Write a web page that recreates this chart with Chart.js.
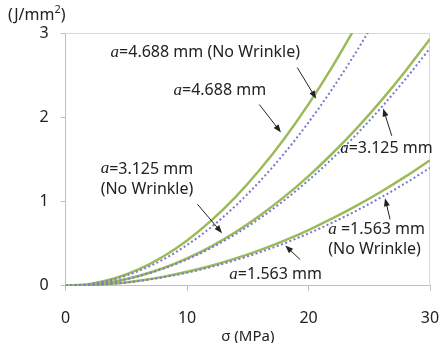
<!DOCTYPE html>
<html>
<head>
<meta charset="utf-8">
<script src="https://cdn.jsdelivr.net/npm/chart.js@4/dist/chart.umd.min.js"></script>
<style>
  html, body { margin: 0; padding: 0; background: #fff; }
  #caixa { width: 441px; height: 343px; }
</style>
</head>
<body>
<div id="caixa"><canvas id="grafico"></canvas></div>
<script>
// tensão (MPa)
const sigma = [0, 2, 4, 6, 8, 10, 12, 14, 16, 18, 20, 22, 24, 26, 28, 30];

// energia (J/mm2)
const a4688SemRuga = [0, 0.022, 0.086, 0.194, 0.345, 0.539, 0.776, 1.056, 1.380, 1.746, 2.156, 2.609, 3.105];
const a4688 = [0, 0.019, 0.078, 0.175, 0.310, 0.485, 0.698, 0.951, 1.242, 1.571, 1.940, 2.347, 2.794, 3.279];
const a3125SemRuga = [0, 0.013, 0.052, 0.117, 0.208, 0.326, 0.469, 0.638, 0.834, 1.055, 1.302, 1.576, 1.875, 2.201, 2.553, 2.930];
const a3125 = [0, 0.013, 0.050, 0.113, 0.201, 0.313, 0.451, 0.614, 0.802, 1.015, 1.253, 1.516, 1.805, 2.118, 2.456, 2.820];
const a1563SemRuga = [0, 0.007, 0.026, 0.060, 0.106, 0.166, 0.238, 0.325, 0.424, 0.537, 0.662, 0.802, 0.954, 1.119, 1.298, 1.490];
const a1563 = [0, 0.006, 0.025, 0.056, 0.100, 0.156, 0.224, 0.305, 0.398, 0.504, 0.622, 0.753, 0.896, 1.052, 1.220, 1.400];

const xTicks = [0, 10, 20, 30];
const yTicks = [0, 1, 2, 3];

// rótulos: texto, posição (sigma, energia), seta de -> para
const rotulos = [
  { linhas: [['a', '=4.688 mm (No Wrinkle)']], x: 3.7, y: 2.77, seta: [19.07, 2.59, 20.63, 2.22] },
  { linhas: [['a', '=4.688 mm']], x: 8.88, y: 2.32, seta: [15.95, 2.151, 17.73, 1.82] },
  { linhas: [['a', '=3.125 mm']], x: 22.6, y: 1.625, seta: [26.85, 1.781, 26.14, 2.104] },
  { linhas: [['a', '=3.125 mm'], ['', '(No Wrinkle)']], x: 2.88, y: 1.386, seta: [10.85, 0.968, 12.88, 0.625] },
  { linhas: [['a', ' =1.563 mm'], ['', '(No Wrinkle)']], x: 21.62, y: 0.669, seta: [26.71, 0.789, 26.30, 1.040] },
  { linhas: [['a', '=1.563 mm']], x: 13.48, y: 0.131, seta: [19.31, 0.311, 18.08, 0.478] }
];

function pontos(valores) {
  return valores.map((v, i) => ({ x: sigma[i], y: v }));
}

const verde = '#9bbb59';
const azul = '#7a78cc';

function serieVerde(valores) {
  return { data: pontos(valores), borderColor: verde, borderWidth: 2.5, pointRadius: 0, cubicInterpolationMode: 'monotone', order: 2 };
}
function seriePontilhada(valores) {
  return { data: pontos(valores), borderColor: azul, borderWidth: 2, borderDash: [2, 2.5], pointRadius: 0, cubicInterpolationMode: 'monotone', order: 1 };
}

const familia = '"Noto Sans", sans-serif';
const fonteTexto = '16px ' + familia;
const fonteA = 'italic 17px "Liberation Serif", serif';

const desenhos = {
  id: 'desenhos',
  beforeDatasetsDraw(chart) {
    const c = chart.ctx, a = chart.chartArea;
    c.save();
    c.strokeStyle = '#d9d9d9';
    c.lineWidth = 1;
    c.beginPath();
    c.moveTo(a.left, a.top + 0.5);
    c.lineTo(a.right - 0.5, a.top + 0.5);
    c.lineTo(a.right - 0.5, a.bottom);
    c.stroke();
    c.restore();
  },
  afterDraw(chart) {
    const c = chart.ctx, sx = chart.scales.x, sy = chart.scales.y;
    c.save();
    c.fillStyle = '#222';
    c.textBaseline = 'middle';
    c.font = fonteTexto;
    c.fillText('(J/mm', 8, 15);
    let w = c.measureText('(J/mm').width;
    c.font = '11px ' + familia;
    c.fillText('2', 8 + w, 10);
    let w2 = c.measureText('2').width;
    c.font = fonteTexto;
    c.fillText(')', 8 + w + w2, 15);

    rotulos.forEach(r => {
      let px = sx.getPixelForValue(r.x), py = sy.getPixelForValue(r.y);
      r.linhas.forEach((l, k) => {
        let xx = px;
        if (l[0]) {
          c.font = fonteA;
          c.fillText(l[0], xx, py + k * 20);
          xx += c.measureText(l[0]).width;
        }
        c.font = fonteTexto;
        c.fillText(l[1], xx, py + k * 20);
      });
      // seta
      const x1 = sx.getPixelForValue(r.seta[0]), y1 = sy.getPixelForValue(r.seta[1]);
      const x2 = sx.getPixelForValue(r.seta[2]), y2 = sy.getPixelForValue(r.seta[3]);
      const ang = Math.atan2(y2 - y1, x2 - x1);
      c.strokeStyle = '#222';
      c.lineWidth = 1;
      c.beginPath();
      c.moveTo(x1, y1);
      c.lineTo(x2 - 5 * Math.cos(ang), y2 - 5 * Math.sin(ang));
      c.stroke();
      c.beginPath();
      c.moveTo(x2, y2);
      c.lineTo(x2 - 8 * Math.cos(ang) + 3 * Math.sin(ang), y2 - 8 * Math.sin(ang) - 3 * Math.cos(ang));
      c.lineTo(x2 - 8 * Math.cos(ang) - 3 * Math.sin(ang), y2 - 8 * Math.sin(ang) + 3 * Math.cos(ang));
      c.closePath();
      c.fill();
    });
    c.restore();
  }
};

const ctx = document.getElementById('grafico').getContext('2d');
const grafico = new Chart(ctx, {
  type: 'line',
  data: {
    datasets: [
      seriePontilhada(a4688),
      seriePontilhada(a3125),
      seriePontilhada(a1563),
      serieVerde(a4688SemRuga),
      serieVerde(a3125SemRuga),
      serieVerde(a1563SemRuga)
    ]
  },
  options: {
    responsive: true,
    maintainAspectRatio: false,
    animation: false,
    layout: { padding: { top: 33, right: 11, left: 27.5, bottom: 0 } },
    plugins: { legend: { display: false }, tooltip: { enabled: false } },
    scales: {
      x: {
        type: 'linear', min: 0, max: 30,
        afterBuildTicks: s => { s.ticks = xTicks.map(v => ({ value: v })); },
        afterFit: s => { s.paddingRight = 0; s.paddingLeft = 0; },
        ticks: { color: '#222', font: { size: 16, family: familia }, padding: 18, maxRotation: 0 },
        grid: { display: true, drawOnChartArea: false, drawTicks: true, tickLength: 5, color: '#bfbfbf' },
        border: { color: '#bfbfbf' },
        title: { display: true, text: 'σ (MPa)', color: '#222', font: { size: 15, family: familia }, padding: { top: -18, bottom: -3 } }
      },
      y: {
        type: 'linear', min: 0, max: 3,
        afterBuildTicks: s => { s.ticks = yTicks.map(v => ({ value: v })); },
        ticks: { color: '#222', font: { size: 16, family: familia }, padding: 12 },
        grid: { display: true, drawOnChartArea: false, drawTicks: true, tickLength: 5, color: '#bfbfbf' },
        border: { color: '#bfbfbf' }
      }
    }
  },
  plugins: [desenhos]
});
</script>
</body>
</html>
